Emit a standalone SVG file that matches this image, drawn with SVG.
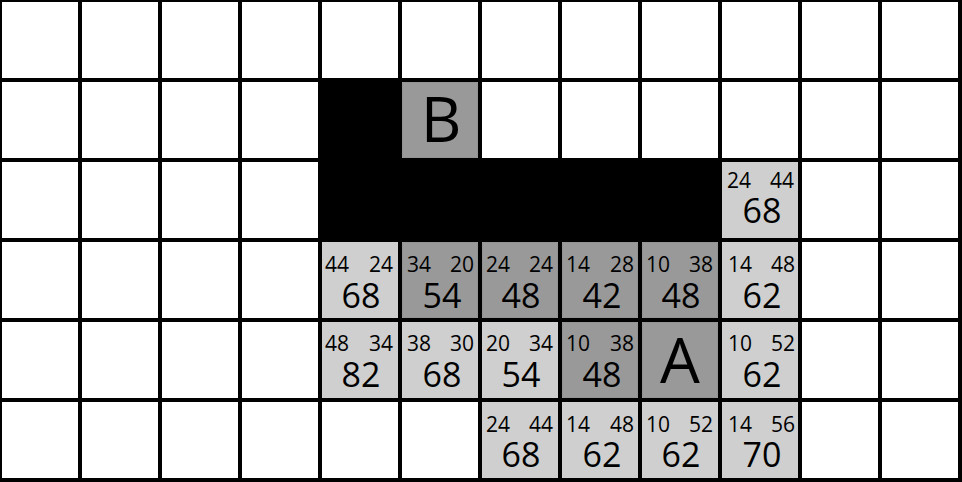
<svg xmlns="http://www.w3.org/2000/svg" width="962" height="482" viewBox="0 0 962 482">
<style>
.bg{fill:#ffffff}
.grid line{stroke:#000;stroke-width:4}
.blk{fill:#000}
.light{fill:#cfcfcf}
.dark{fill:#999999;stroke:#5a5a5a;stroke-width:1;stroke-dasharray:1 1}
text{font-family:"Open Sans","Noto Sans","DejaVu Sans",sans-serif;fill:#000}
.s{font-size:21px}
.r{text-anchor:end}
.b{font-size:34px;text-anchor:middle}
.L{font-size:63px;text-anchor:middle}
</style>
<rect class="bg" x="0" y="0" width="962" height="482"/>

<g id="obstacle">
<rect class="blk" x="318" y="78" width="84" height="164"/>
<rect class="blk" x="318" y="158" width="404" height="84"/>
</g>

<g id="cell-B">
<rect class="dark" x="402.5" y="82.5" width="75" height="75"/>
<text class="L" x="441" y="142">B</text>
</g>

<g id="cell-r2c9">
<rect class="light" x="722" y="162" width="76" height="76"/>
<text class="s" x="727" y="188">24</text><text class="s r" x="794" y="188">44</text>
<text class="b" x="762" y="223">68</text>
</g>

<g id="cell-r3c4">
<rect class="light" x="322" y="242" width="76" height="76"/>
<text class="s" x="325" y="272">44</text><text class="s r" x="393" y="272">24</text>
<text class="b" x="361" y="308">68</text>
</g>
<g id="cell-r3c5">
<rect class="dark" x="402.5" y="242.5" width="75" height="75"/>
<text class="s" x="407" y="272">34</text><text class="s r" x="474" y="272">20</text>
<text class="b" x="442" y="308">54</text>
</g>
<g id="cell-r3c6">
<rect class="dark" x="482.5" y="242.5" width="75" height="75"/>
<text class="s" x="486" y="272">24</text><text class="s r" x="553" y="272">24</text>
<text class="b" x="521" y="308">48</text>
</g>
<g id="cell-r3c7">
<rect class="dark" x="562.5" y="242.5" width="75" height="75"/>
<text class="s" x="566" y="272">14</text><text class="s r" x="634" y="272">28</text>
<text class="b" x="602" y="308">42</text>
</g>
<g id="cell-r3c8">
<rect class="dark" x="642.5" y="242.5" width="75" height="75"/>
<text class="s" x="646" y="272">10</text><text class="s r" x="713" y="272">38</text>
<text class="b" x="681" y="308">48</text>
</g>
<g id="cell-r3c9">
<rect class="light" x="722" y="242" width="76" height="76"/>
<text class="s" x="728" y="272">14</text><text class="s r" x="795" y="272">48</text>
<text class="b" x="762" y="308">62</text>
</g>

<g id="cell-r4c4">
<rect class="light" x="322" y="322" width="76" height="76"/>
<text class="s" x="325" y="351">48</text><text class="s r" x="393" y="351">34</text>
<text class="b" x="361" y="387">82</text>
</g>
<g id="cell-r4c5">
<rect class="light" x="402" y="322" width="76" height="76"/>
<text class="s" x="407" y="351">38</text><text class="s r" x="474" y="351">30</text>
<text class="b" x="442" y="387">68</text>
</g>
<g id="cell-r4c6">
<rect class="light" x="482" y="322" width="76" height="76"/>
<text class="s" x="486" y="351">20</text><text class="s r" x="553" y="351">34</text>
<text class="b" x="521" y="387">54</text>
</g>
<g id="cell-r4c7">
<rect class="dark" x="562.5" y="322.5" width="75" height="75"/>
<text class="s" x="566" y="351">10</text><text class="s r" x="634" y="351">38</text>
<text class="b" x="602" y="387">48</text>
</g>
<g id="cell-A">
<rect class="dark" x="642.5" y="322.5" width="75" height="75"/>
<text class="L" x="680" y="383">A</text>
</g>
<g id="cell-r4c9">
<rect class="light" x="722" y="322" width="76" height="76"/>
<text class="s" x="728" y="351">10</text><text class="s r" x="795" y="351">52</text>
<text class="b" x="762" y="387">62</text>
</g>

<g id="cell-r5c6">
<rect class="light" x="482" y="402" width="76" height="76"/>
<text class="s" x="486" y="432">24</text><text class="s r" x="553" y="432">44</text>
<text class="b" x="521" y="467">68</text>
</g>
<g id="cell-r5c7">
<rect class="light" x="562" y="402" width="76" height="76"/>
<text class="s" x="566" y="432">14</text><text class="s r" x="634" y="432">48</text>
<text class="b" x="602" y="467">62</text>
</g>
<g id="cell-r5c8">
<rect class="light" x="642" y="402" width="76" height="76"/>
<text class="s" x="646" y="432">10</text><text class="s r" x="713" y="432">52</text>
<text class="b" x="681" y="467">62</text>
</g>
<g id="cell-r5c9">
<rect class="light" x="722" y="402" width="76" height="76"/>
<text class="s" x="728" y="432">14</text><text class="s r" x="795" y="432">56</text>
<text class="b" x="762" y="467">70</text>
</g>

<g id="connectors" class="grid">
<line x1="0" y1="0" x2="0" y2="482"/>
<line x1="80" y1="0" x2="80" y2="482"/>
<line x1="160" y1="0" x2="160" y2="482"/>
<line x1="240" y1="0" x2="240" y2="482"/>
<line x1="320" y1="0" x2="320" y2="482"/>
<line x1="400" y1="0" x2="400" y2="482"/>
<line x1="480" y1="0" x2="480" y2="482"/>
<line x1="560" y1="0" x2="560" y2="482"/>
<line x1="640" y1="0" x2="640" y2="482"/>
<line x1="720" y1="0" x2="720" y2="482"/>
<line x1="800" y1="0" x2="800" y2="482"/>
<line x1="880" y1="0" x2="880" y2="482"/>
<line x1="960" y1="0" x2="960" y2="482"/>
<line x1="0" y1="0" x2="962" y2="0"/>
<line x1="0" y1="80" x2="962" y2="80"/>
<line x1="0" y1="160" x2="962" y2="160"/>
<line x1="0" y1="240" x2="962" y2="240"/>
<line x1="0" y1="320" x2="962" y2="320"/>
<line x1="0" y1="400" x2="962" y2="400"/>
<line x1="0" y1="480" x2="962" y2="480"/>
</g>
</svg>
